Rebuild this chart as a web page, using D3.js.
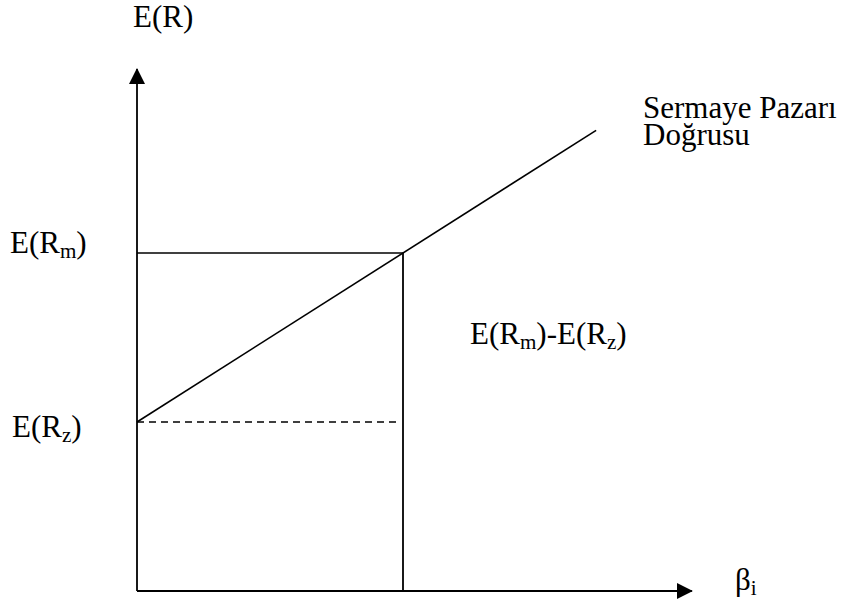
<!DOCTYPE html>
<html>
<head>
<meta charset="utf-8">
<script src="https://cdn.jsdelivr.net/npm/d3@7"></script>
<style>
  body { margin: 0; background: #fff; }
</style>
</head>
<body>
<svg id="chart"></svg>
<script>
// Values (E(R) in arbitrary units, beta as usual)
const betaPoints = [0, 1.726];          // start and end of the capital market line
const returnLevels = [4, 8];            // E(Rz), E(Rm)
const marketBeta = [1];                 // beta of the market portfolio
const axisMax = [2.086, 12.355];        // beta axis max, E(R) axis max
const lineName = ["Sermaye Pazarı", "Doğrusu"];

const width = 845;
const height = 603;

const svg = d3.select("#chart")
  .attr("width", width)
  .attr("height", height);

svg.append("rect").attr("width", width).attr("height", height).attr("fill", "#fff");

// scales
const x = d3.scaleLinear().domain([0, 1]).range([137, 403]);
const y = d3.scaleLinear().domain([4, 8]).range([422, 253]);

const [rz, rm] = returnLevels;
const sml = b => rz + b * (rm - rz);

// arrow head
svg.append("defs").append("marker")
  .attr("id", "arrow")
  .attr("viewBox", "0 0 16 16")
  .attr("refX", 15)
  .attr("refY", 8)
  .attr("markerWidth", 16)
  .attr("markerHeight", 16)
  .attr("markerUnits", "userSpaceOnUse")
  .attr("orient", "auto")
  .append("path")
  .attr("d", "M0,0L16,8L0,16Z")
  .attr("fill", "#000");

const g = svg.append("g").attr("stroke", "#000").attr("fill", "none");

// axes
g.append("line")
  .attr("x1", x(0)).attr("y1", y(0))
  .attr("x2", x(0)).attr("y2", y(axisMax[1]))
  .attr("stroke-width", 1.8)
  .attr("marker-end", "url(#arrow)");

g.append("line")
  .attr("x1", x(0)).attr("y1", y(0))
  .attr("x2", x(axisMax[0])).attr("y2", y(0))
  .attr("stroke-width", 1.8)
  .attr("marker-end", "url(#arrow)");

// capital market line
const line = d3.line().x(d => x(d)).y(d => y(sml(d)));
g.append("path")
  .attr("d", line(betaPoints))
  .attr("stroke-width", 1.6);

// E(Rm) horizontal and vertical at beta = 1
g.append("line")
  .attr("x1", x(0)).attr("y1", y(rm))
  .attr("x2", x(marketBeta[0])).attr("y2", y(rm))
  .attr("stroke-width", 1.6);

g.append("line")
  .attr("x1", x(marketBeta[0])).attr("y1", y(rm))
  .attr("x2", x(marketBeta[0])).attr("y2", y(0))
  .attr("stroke-width", 1.8);

// dashed E(Rz) line
g.append("line")
  .attr("x1", x(0)).attr("y1", y(rz))
  .attr("x2", x(marketBeta[0]) - 6).attr("y2", y(rz))
  .attr("stroke-width", 1.5)
  .attr("stroke-dasharray", "7,5");

// labels: parts are [text, isSubscript]
const fontSize = 31;
const subShift = 5;
function label(px, py, parts) {
  const t = svg.append("text")
    .attr("x", px).attr("y", py)
    .attr("font-family", "'Liberation Serif', 'Times New Roman', serif")
    .attr("font-size", fontSize)
    .attr("fill", "#000");
  let down = false;
  parts.forEach(([s, sub]) => {
    const span = t.append("tspan").text(s);
    if (sub) span.attr("font-size", fontSize * 0.68);
    if (sub && !down) { span.attr("dy", subShift); down = true; }
    else if (!sub && down) { span.attr("dy", -subShift); down = false; }
  });
  return t;
}

label(x(0) - 4, 27, [["E(R)", false]]);
label(10, y(rm), [["E(R", false], ["m", true], [")", false]]);
label(12, y(rz) + 15, [["E(R", false], ["z", true], [")", false]]);
label(470, 344, [["E(R", false], ["m", true], [")-E(R", false], ["z", true], [")", false]]);
label(735, 590, [["β", false], ["i", true]]);

// two-line name of the line
svg.append("text")
  .attr("font-family", "'Liberation Serif', 'Times New Roman', serif")
  .attr("font-size", fontSize)
  .attr("fill", "#000")
  .selectAll("tspan")
  .data(lineName)
  .join("tspan")
  .attr("x", 643)
  .attr("y", (d, i) => 118 + i * 27)
  .text(d => d);
</script>
</body>
</html>
